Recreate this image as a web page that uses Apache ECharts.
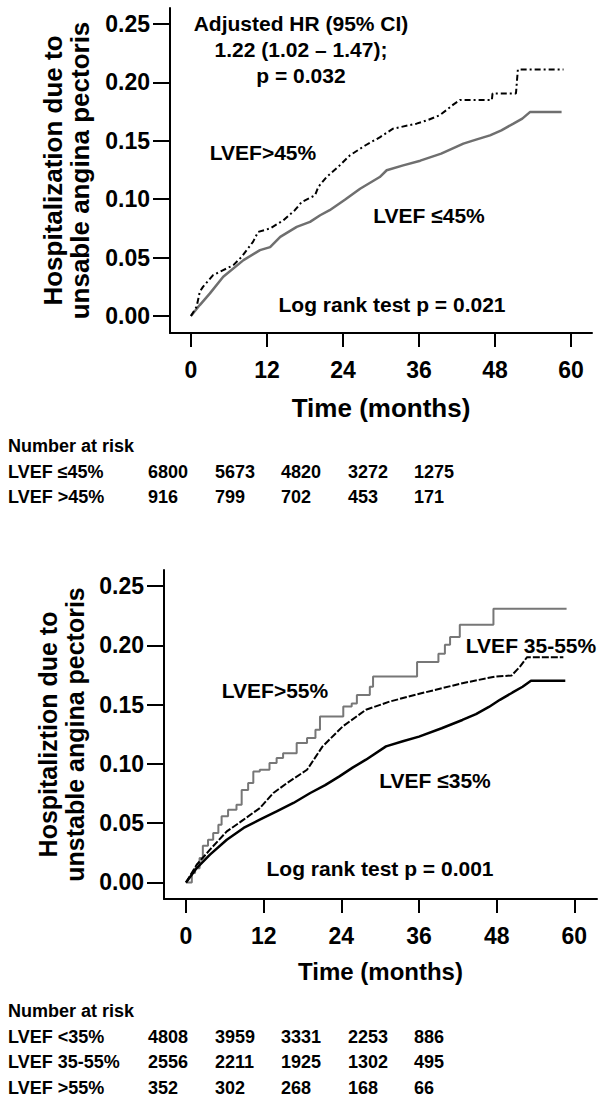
<!DOCTYPE html>
<html><head><meta charset="utf-8">
<script src="https://cdn.jsdelivr.net/npm/echarts@6/dist/echarts.min.js"></script>
<style>html,body{margin:0;padding:0;background:#fff}#c{width:607px;height:1103px}</style>
</head><body><div id="c"></div>
<script>
// ---------- data ----------
const monthTicks = [0, 12, 24, 36, 48, 60];
const yTicks = [0, 0.05, 0.10, 0.15, 0.20, 0.25];

// Top panel: [month, cumulative incidence]
const lvefLe45 = [[0,0],[1.4,0.0094],[3.0,0.0194],[5.1,0.0336],[8.3,0.0479],[10.9,0.0564],[12.5,0.059],[14.1,0.0678],[16.7,0.0763],[18.8,0.0806],[20.4,0.0863],[21.9,0.0906],[24.3,0.0995],[26.7,0.109],[29.8,0.119],[30.9,0.1248],[33.5,0.129],[36.2,0.133],[39.5,0.139],[43,0.1476],[45,0.151],[47.2,0.1547],[49,0.159],[50.9,0.1647],[52.3,0.169],[53.5,0.1746],[58.5,0.1746]];
const lvefGt45 = [[0,0],[0.9,0.008],[1.4,0.0208],[1.9,0.025],[3.5,0.035],[5.1,0.0393],[6.7,0.0436],[8.0,0.0507],[9.8,0.0635],[10.6,0.072],[12.5,0.075],[14.6,0.082],[16.4,0.0906],[17.5,0.0977],[19.6,0.1034],[20.1,0.1105],[21.4,0.119],[23.3,0.128],[25.1,0.1376],[27.5,0.146],[29.8,0.153],[31.9,0.1604],[35.6,0.1647],[37.5,0.168],[39.3,0.172],[40.5,0.177],[41.4,0.181],[42.5,0.185],[47.5,0.185],[47.6,0.1905],[51.3,0.1905],[51.6,0.211],[58.8,0.211]];

// Bottom panel
const lvefLe35 = [[0,0],[1.65,0.0121],[3.7,0.0234],[6.3,0.036],[8.9,0.0459],[11.4,0.0529],[14,0.0599],[16.6,0.067],[19.2,0.0754],[21.5,0.082],[23.7,0.0894],[25.8,0.097],[27.8,0.1035],[30.9,0.1147],[33.5,0.119],[36,0.123],[39.5,0.130],[42.7,0.137],[44.8,0.142],[46.8,0.148],[48.5,0.154],[50.4,0.160],[52,0.165],[53.3,0.170],[58.6,0.170]];
const lvef35to55 = [[0,0],[1.65,0.0149],[3.7,0.0276],[6.3,0.043],[8.9,0.0529],[11.4,0.0627],[13.5,0.0754],[15.6,0.0838],[18.7,0.095],[21.1,0.1147],[24.2,0.1315],[27.8,0.1456],[31.5,0.1526],[36.5,0.1597],[42.7,0.168],[47.8,0.1737],[50.3,0.1745],[51.6,0.182],[52.7,0.190],[58.3,0.190]];
const lvefGt55 = [[0,0],[0.9,0.008],[1.4,0.012],[2.1,0.0206],[2.6,0.031],[3.4,0.036],[4.2,0.0416],[5.0,0.0487],[5.5,0.0557],[6.5,0.0613],[7.8,0.0655],[8.6,0.078],[9.6,0.0838],[10.4,0.0936],[11.4,0.095],[12.9,0.1007],[14,0.105],[15,0.109],[17.1,0.1175],[18.7,0.1218],[20,0.1287],[20.7,0.14],[24.3,0.1484],[25.6,0.151],[26.4,0.158],[28.4,0.165],[28.9,0.1737],[35.7,0.186],[39,0.1928],[40,0.2004],[40.8,0.2069],[42.3,0.2173],[47.5,0.2308],[58.8,0.2308]];

// Number at risk tables
const riskTitle = 'Number at risk';
const riskTopGroups = ['LVEF ≤45%', 'LVEF >45%'];
const riskTopValues = [[6800, 5673, 4820, 3272, 1275], [916, 799, 702, 453, 171]];
const riskBottomGroups = ['LVEF <35%', 'LVEF 35-55%', 'LVEF >55%'];
const riskBottomValues = [[4808, 3959, 3331, 2253, 886], [2556, 2211, 1925, 1302, 495], [352, 302, 268, 168, 66]];

// ---------- chart ----------
const FONT = '"Liberation Sans", Arial, Helvetica, sans-serif';
const chart = echarts.init(document.getElementById('c'), null, {renderer: 'svg'});

function mkX(gi, min, max, gap, nameSize) {
  return {
    type: 'value', gridIndex: gi, min: min, max: max,
    axisLine: {show: true, onZero: false, lineStyle: {color: '#000', width: 2}},
    axisTick: {show: true, length: 14, customValues: monthTicks, lineStyle: {color: '#000', width: 2}},
    axisLabel: {customValues: monthTicks, margin: 25, color: '#000', fontSize: 23, fontWeight: 'bold', fontFamily: FONT},
    splitLine: {show: false},
    name: 'Time (months)', nameLocation: 'middle', nameGap: gap,
    nameTextStyle: {color: '#000', fontSize: nameSize, fontWeight: 'bold', fontFamily: FONT}
  };
}
function mkY(gi, min, max, name, gap, nameSize) {
  return {
    type: 'value', gridIndex: gi, min: min, max: max,
    axisLine: {show: true, onZero: false, lineStyle: {color: '#000', width: 2}},
    axisTick: {show: true, length: 17, customValues: yTicks, lineStyle: {color: '#000', width: 2}},
    axisLabel: {customValues: yTicks, margin: 20, color: '#000', fontSize: 23, fontWeight: 'bold', fontFamily: FONT,
      formatter: v => v.toFixed(2)},
    splitLine: {show: false},
    name: name, nameLocation: 'middle', nameGap: gap, nameRotate: 90,
    nameTextStyle: {color: '#000', fontSize: nameSize, fontWeight: 'bold', fontFamily: FONT, lineHeight: 27}
  };
}
function line(data, xi, color, width, type, step) {
  return {type: 'line', xAxisIndex: xi, yAxisIndex: xi, data: data, showSymbol: false, symbol: 'none',
    step: step || false, animation: false, silent: true,
    lineStyle: {color: color, width: width, type: type}};
}
function txt(text, x, y, size, align) {
  return {type: 'text', x: x, y: y, silent: true,
    style: {text: text, fill: '#000', font: 'bold ' + size + 'px ' + FONT, align: align || 'center', verticalAlign: 'middle'}};
}

const graphics = [];
// top annotations
graphics.push(txt('Adjusted HR (95% CI)', 301, 23, 21));
graphics.push(txt('1.22 (1.02 \u2013 1.47);', 301, 49, 21));
graphics.push(txt('p = 0.032', 301, 75, 21));
graphics.push(txt('LVEF>45%', 263, 152, 21));
graphics.push(txt('LVEF \u226445%', 429, 215, 21));
graphics.push(txt('Log rank test p = 0.021', 392, 304, 21));
// bottom annotations
graphics.push(txt('LVEF 35-55%', 531, 645, 21));
graphics.push(txt('LVEF>55%', 275, 690, 21));
graphics.push(txt('LVEF \u226435%', 435, 780, 21));
graphics.push(txt('Log rank test p = 0.001', 380, 868, 21));

// tables
const colX = [148, 215, 281, 348, 414];
function table(y0, groups, values) {
  graphics.push(txt(riskTitle, 8, y0, 18, 'left'));
  groups.forEach((g, i) => {
    const y = y0 + 25.5 * (i + 1);
    graphics.push(txt(g, 8, y, 18, 'left'));
    values[i].forEach((v, j) => graphics.push(txt(String(v), colX[j], y, 18, 'left')));
  });
}
table(446, riskTopGroups, riskTopValues);
table(1011, riskBottomGroups, riskBottomValues);

chart.setOption({
  backgroundColor: '#fff',
  animation: false,
  grid: [
    {left: 170, top: 8, width: 422, height: 325},
    {left: 164, top: 570, width: 433, height: 329}
  ],
  xAxis: [mkX(0, -3.3, 63.3, 62, 26), mkX(1, -3.4, 63.5, 60, 24)],
  yAxis: [
    mkY(0, -0.0145, 0.2637, 'Hospitalization due to\nunsable angina pectoris', 77, 26),
    mkY(1, -0.014, 0.2635, 'Hospitaliztion due to\nunstable angina pectoris', 76, 25)
  ],
  series: [
    line(lvefLe45, 0, '#6f6f6f', 2.5, 'solid'),
    line(lvefGt45, 0, '#000', 2, [6, 3, 2, 3]),
    line(lvefGt55, 1, '#777777', 2, 'solid', 'end'),
    line(lvef35to55, 1, '#000', 2, [7, 2]),
    line(lvefLe35, 1, '#000', 2.5, 'solid')
  ],
  graphic: graphics
});
</script>
</body></html>
